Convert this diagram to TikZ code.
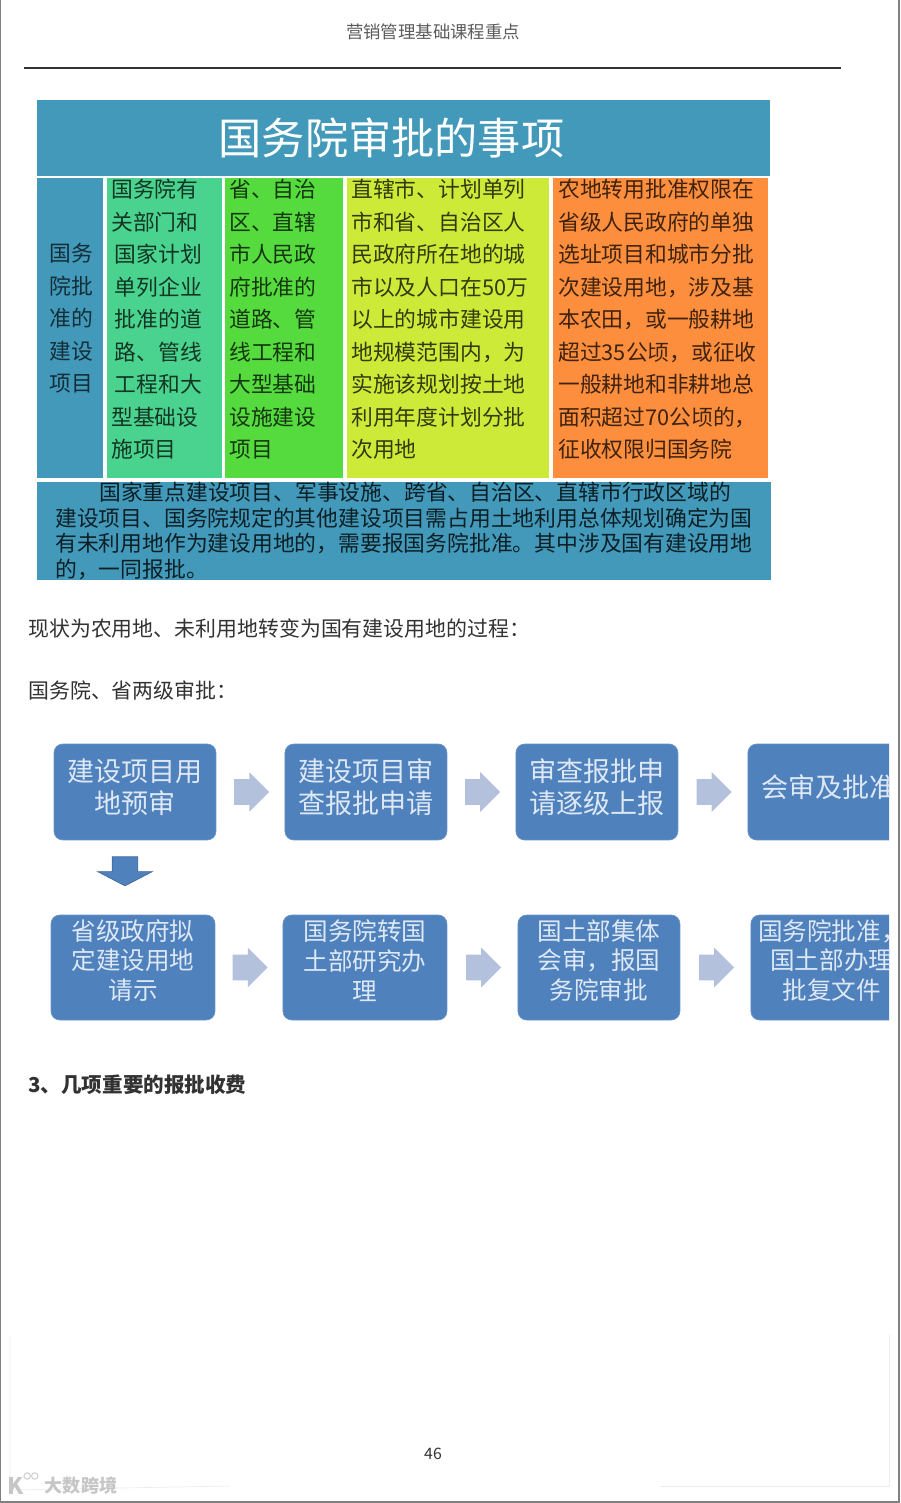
\documentclass[tikz,border=0pt]{standalone}
\usepackage{fontspec}
\setmainfont{Noto Sans CJK SC}
\usepackage{xcolor}
\usepackage{tikz}
\usetikzlibrary{shapes.arrows, positioning}
\definecolor{bandblue}{RGB}{66, 153, 185}
\definecolor{tealgreen}{RGB}{74, 211, 143}
\definecolor{limegreen}{RGB}{86, 219, 63}
\definecolor{yellowgreen}{RGB}{206, 234, 57}
\definecolor{cellorange}{RGB}{252, 142, 61}
\definecolor{boxblue}{RGB}{79, 129, 189}
\definecolor{boxtext}{RGB}{222, 232, 244}
\definecolor{arrowblue}{RGB}{179, 193, 221}
\definecolor{darktext}{RGB}{50, 50, 50}
\tikzset{
  cell/.style={
    rectangle, anchor=north west, inner sep=0pt, outer sep=0pt,
    minimum height=6cm
  },
  celltext/.style={
    anchor=north west, inner sep=0pt, align=left,
    font=\fontsize{12.4pt}{18.5pt}\selectfont
  },
  flowbox/.style={
    rectangle, rounded corners=5pt, fill=boxblue, draw=boxblue!85!white,
    minimum width=3.24cm, minimum height=1.92cm, inner sep=0pt, outer sep=0pt
  },
  lowbox/.style={flowbox, minimum width=3.28cm, minimum height=2.1cm},
  flowtext/.style={
    align=center, inner sep=0pt, text=boxtext,
    font=\fontsize{15.4pt}{18.2pt}\selectfont
  },
  lowtext/.style={flowtext, font=\fontsize{14pt}{17pt}\selectfont},
  flowarrow/.style={
    single arrow, fill=arrowblue, inner xsep=0pt, inner ysep=0.25cm,
    minimum height=0.70cm, single arrow head extend=0.14cm
  },
  bodytext/.style={
    anchor=west, inner sep=0pt, text=darktext,
    font=\fontsize{11.9pt}{14pt}\selectfont
  },
}

\begin{document}
\begin{tikzpicture}[x=0.02cm, y=-0.02cm]
  \useasboundingbox (0,0) rectangle (900,1503);

  % Page
  \draw[gray, line width=0.7pt] (0.5,0) -- (0.5,1502) -- (899,1502) -- (899,0);
  \draw[gray!15, line width=0.4pt] (10,1335) -- (10,1490) -- (230,1486);
  \draw[gray!15, line width=0.4pt] (889,1335) -- (889,1486) -- (660,1486);
  \node[inner sep=0pt, text=darktext!80, font=\fontsize{9.9pt}{12pt}\selectfont] (header) at (433,32) {营销管理基础课程重点};
  \coordinate (ruleL) at (24,68);
  \coordinate (ruleR) at (841,68);
  \draw[darktext, line width=0.7pt] (ruleL) -- (ruleR);

  % Table
  \node[rectangle, anchor=north west, fill=bandblue, inner sep=0pt, outer sep=0pt, minimum width=14.66cm, minimum height=1.52cm,
    text=white, font=\fontsize{24.6pt}{28pt}\selectfont] (title) at (37,100) {国务院审批的事项\hspace*{13.6pt}};

  \node[cell, fill=bandblue,    minimum width=1.32cm] (c1) at (37,178) {};
  \node[cell, fill=tealgreen,   minimum width=2.30cm, right=0.08cm of c1] (c2) {};
  \node[cell, fill=limegreen,   minimum width=2.36cm, right=0.06cm of c2] (c3) {};
  \node[cell, fill=yellowgreen, minimum width=4.04cm, right=0.08cm of c3] (c4) {};
  \node[cell, fill=cellorange,  minimum width=4.30cm, right=0.08cm of c4] (c5) {};

  \node[celltext, text=bandblue!30!black] (t1) at ([shift={(12,65)}]c1.north west)
    {国务\\院批\\准的\\建设\\项目};
  \node[celltext, text=tealgreen!25!black] (t2) at ([shift={(4,1)}]c2.north west)
    {国务院有\\关部门和\\\hspace*{2pt}国家计划\\\hspace*{2pt}单列企业\\\hspace*{2pt}批准的道\\\hspace*{2pt}路、管线\\\hspace*{2pt}工程和大\\型基础设\\施项目};
  \node[celltext, text=limegreen!25!black] (t3) at ([shift={(4,1)}]c3.north west)
    {省、自治\\区、直辖\\市人民政\\府批准的\\道路、管\\线工程和\\大型基础\\设施建设\\项目};
  \node[celltext, text=yellowgreen!25!black] (t4) at ([shift={(4,1)}]c4.north west)
    {直辖市、计划单列\\市和省、自治区人\\民政府所在地的城\\市以及人口在50万\\以上的城市建设用\\地规模范围内，为\\实施该规划按土地\\利用年度计划分批\\次用地};
  \node[celltext, text=cellorange!25!black] (t5) at ([shift={(5,1)}]c5.north west)
    {农地转用批准权限在\\省级人民政府的单独\\选址项目和城市分批\\次建设用地，涉及基\\本农田，或一般耕地\\超过35公顷，或征收\\一般耕地和非耕地总\\面积超过70公顷的，\\征收权限归国务院};

  \node[rectangle, anchor=north west, fill=bandblue, inner sep=0pt, outer sep=0pt, minimum width=14.68cm, minimum height=1.96cm,
    align=left, text=bandblue!20!black, font=\fontsize{12.4pt}{14.5pt}\selectfont] (band) at (37,482)
    {\hspace*{25pt}国家重点建设项目、军事设施、跨省、自治区、直辖市行政区域的\\建设项目、国务院规定的其他建设项目需占用土地利用总体规划确定为国\\有未利用地作为建设用地的，需要报国务院批准。其中涉及国有建设用地\\的，一同报批。};

  % Paragraphs
  \node[bodytext] (para1) at (28,629) {现状为农用地、未利用地转变为国有建设用地的过程：};
  \node[bodytext] (para2) at (28,690) {国务院、省两级审批：};
  \node[bodytext, font=\fontsize{11.7pt}{14pt}\selectfont\bfseries] (para3) at (28,1085) {3、几项重要的报批收费};

  % Flow, cut off at the right
  \begin{scope}
    \clip (0,730) rectangle (889,1030);

    \node[flowbox] (b1) at (135,792) {};
    \node[flowbox, right=1.38cm of b1] (b2) {};
    \node[flowbox, right=1.38cm of b2] (b3) {};
    \node[flowbox, right=1.40cm of b3] (b4) {};

    \node[lowbox] (b5) at (133,967.5) {};
    \node[lowbox, right=1.36cm of b5] (b6) {};
    \node[lowbox, minimum width=3.24cm, right=1.42cm of b6] (b7) {};
    \node[lowbox, minimum width=3.24cm, right=1.42cm of b7] (b8) {};

    \node[flowtext] (f1) at ([yshift=3pt]b1.center) {建设项目用\\地预审};
    \node[flowtext] (f2) at ([yshift=3pt]b2.center) {建设项目审\\查报批申请};
    \node[flowtext] (f3) at ([yshift=3pt]b3.center) {审查报批申\\请逐级上报};
    \node[flowtext] (f4) at ([yshift=3pt]b4.center) {会审及批准};

    \node[lowtext] (f5) at ([yshift=4pt]b5.center) {省级政府拟\\定建设用地\\请示};
    \node[lowtext] (f6) at ([yshift=4pt]b6.center) {国务院转国\\土部研究办\\理};
    \node[lowtext] (f7) at ([yshift=4pt]b7.center) {国土部集体\\会审，报国\\务院审批};
    \node[lowtext] (f8) at ([yshift=4pt]b8.center) {国务院批准，\\国土部办理\\批复文件};
  \end{scope}

  % Arrows
  \foreach \a/\b in {b1/b2, b2/b3, b3/b4, b5/b6, b6/b7, b7/b8}{
    \path (\a) -- node[flowarrow, xshift=-3pt] (\a\b) {} (\b);
  }
  \node[flowarrow, shape border rotate=270, fill=boxblue, draw=boxblue!80!black, inner xsep=0.25cm, inner ysep=0pt, minimum height=0.58cm,
    single arrow head extend=0.29cm, single arrow tip angle=125, below=0.33cm of b1, xshift=-0.2cm] (b1b5) {};

  % Footer
  \node[inner sep=0pt, text=darktext, font=\fontsize{9pt}{11pt}\selectfont] (pagenum) at (433,1454) {46};
  \node[inner sep=0pt, text=gray!45, font=\fontsize{13pt}{15pt}\selectfont\bfseries] (logo) at (16,1486) {K};
  \node[circle, draw=gray!35, line width=0.6pt, inner sep=0pt, minimum size=0.13cm, right=-0.02cm of logo, yshift=0.2cm] (logoa) {};
  \node[circle, draw=gray!35, line width=0.6pt, inner sep=0pt, minimum size=0.13cm, right=0cm of logoa] (logob) {};
  \node[inner sep=0pt, text=gray!45, font=\fontsize{10.3pt}{12pt}\selectfont\bfseries] (mark) at (81,1486) {大数跨境};
\end{tikzpicture}
\end{document}
